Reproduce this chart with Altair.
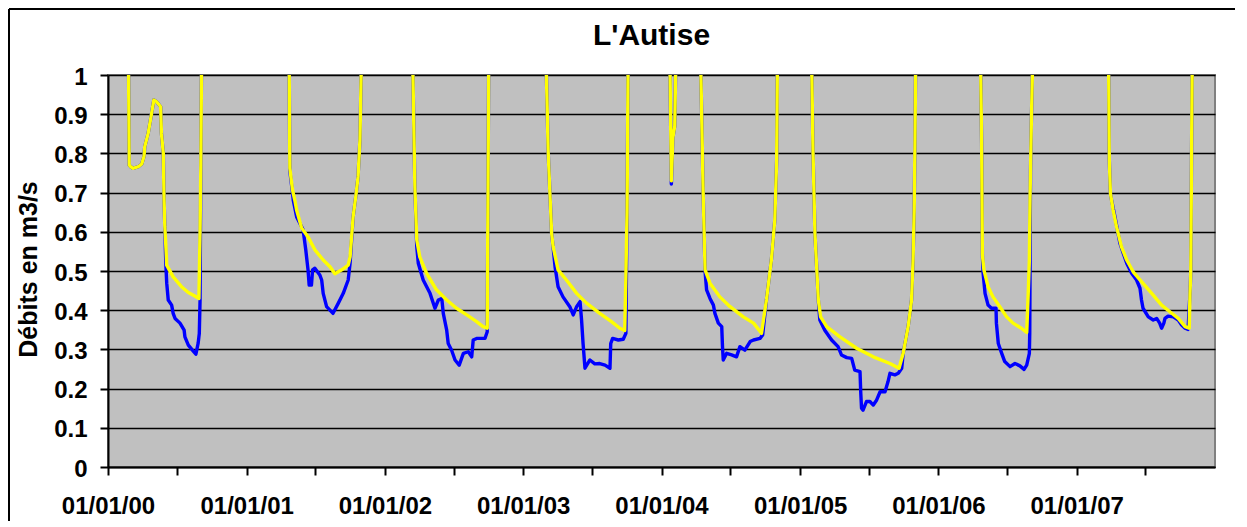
import altair as alt
import pandas as pd

# Débits (m3/s) per low-flow season
# yellow series (drawn on top) and blue series (drawn beneath)
Y00 = [("2000-02-24",1.05),("2000-02-26",0.770),("2000-03-01",0.766),("2000-03-07",0.762),("2000-03-21",0.766),("2000-03-30",0.773),("2000-04-05",0.792),("2000-04-07",0.817),("2000-04-16",0.851),("2000-04-25",0.902),("2000-05-01",0.936),("2000-05-08",0.932),("2000-05-19",0.919),("2000-05-21",0.851),("2000-05-26",0.800),("2000-05-27",0.741),("2000-05-28",0.681),("2000-05-30",0.613),("2000-06-02",0.558),("2000-06-04",0.515),("2000-06-21",0.485),("2000-07-13",0.460),("2000-07-31",0.445),("2000-08-17",0.436),("2000-08-28",0.430),("2000-08-31",0.600),("2000-09-02",0.770),("2000-09-04",1.05)]
B00 = [("2000-02-24",1.05),("2000-02-26",0.770),("2000-03-01",0.766),("2000-03-07",0.762),("2000-03-21",0.766),("2000-03-30",0.773),("2000-04-05",0.792),("2000-04-07",0.817),("2000-04-16",0.851),("2000-04-25",0.902),("2000-05-01",0.936),("2000-05-08",0.932),("2000-05-19",0.919),("2000-05-21",0.851),("2000-05-26",0.800),("2000-05-27",0.741),("2000-05-28",0.681),("2000-05-30",0.613),("2000-06-01",0.540),("2000-06-02",0.511),("2000-06-04",0.469),("2000-06-08",0.426),("2000-06-17",0.413),("2000-06-21",0.392),("2000-06-26",0.379),("2000-07-09",0.367),("2000-07-20",0.349),("2000-07-22",0.332),("2000-07-31",0.311),("2000-08-12",0.297),("2000-08-20",0.288),("2000-08-26",0.316),("2000-08-29",0.341),("2000-08-31",0.426),("2000-09-01",0.600),("2000-09-02",0.770),("2000-09-04",1.05)]

Y01 = [("2001-04-23",1.05),("2001-04-25",0.762),("2001-05-02",0.707),("2001-05-08",0.681),("2001-05-13",0.655),("2001-05-26",0.610),("2001-06-12",0.587),("2001-06-30",0.554),("2001-07-22",0.528),("2001-08-09",0.511),("2001-08-22",0.493),("2001-09-09",0.503),("2001-09-26",0.515),("2001-10-01",0.536),("2001-10-09",0.638),("2001-10-16",0.690),("2001-10-22",0.740),("2001-10-27",0.834),("2001-10-29",0.936),("2001-10-31",1.05)]
B01 = [("2001-04-23",1.05),("2001-04-25",0.755),("2001-05-02",0.700),("2001-05-04",0.681),("2001-05-13",0.638),("2001-05-30",0.605),("2001-06-06",0.554),("2001-06-12",0.503),("2001-06-15",0.464),("2001-06-21",0.464),("2001-06-24",0.503),("2001-06-30",0.507),("2001-07-13",0.490),("2001-07-18",0.477),("2001-07-22",0.443),("2001-07-31",0.409),("2001-08-17",0.392),("2001-08-31",0.418),("2001-09-13",0.443),("2001-09-26",0.477),("2001-10-01",0.520),("2001-10-09",0.638),("2001-10-16",0.690),("2001-10-22",0.740),("2001-10-27",0.834),("2001-10-29",0.936),("2001-10-31",1.05)]

Y02 = [("2002-03-15",1.05),("2002-03-21",0.715),("2002-03-26",0.579),("2002-04-03",0.536),("2002-04-21",0.494),("2002-05-17",0.452),("2002-06-13",0.426),("2002-07-09",0.405),("2002-08-05",0.388),("2002-08-31",0.371),("2002-09-17",0.358),("2002-09-28",0.354),("2002-09-30",0.700),("2002-10-02",1.05)]
B02 = [("2002-03-15",1.05),("2002-03-21",0.715),("2002-03-26",0.562),("2002-03-30",0.520),("2002-04-12",0.477),("2002-04-30",0.443),("2002-05-13",0.405),("2002-05-22",0.426),("2002-05-31",0.430),("2002-06-04",0.392),("2002-06-13",0.349),("2002-06-17",0.315),("2002-06-26",0.298),("2002-07-05",0.273),("2002-07-16",0.260),("2002-07-27",0.290),("2002-08-09",0.294),("2002-08-18",0.281),("2002-08-22",0.324),("2002-08-31",0.328),("2002-09-22",0.328),("2002-09-28",0.345),("2002-09-30",0.700),("2002-10-02",1.05)]

Y03 = [("2003-03-02",1.05),("2003-03-08",0.800),("2003-03-17",0.596),("2003-03-21",0.562),("2003-04-03",0.503),("2003-04-25",0.477),("2003-05-22",0.443),("2003-06-17",0.418),("2003-07-22",0.392),("2003-08-22",0.371),("2003-09-13",0.354),("2003-09-26",0.348),("2003-09-29",0.486),("2003-10-02",0.650),("2003-10-05",1.05)]
B03 = [("2003-03-02",1.05),("2003-03-08",0.800),("2003-03-17",0.596),("2003-03-21",0.560),("2003-03-26",0.511),("2003-04-03",0.460),("2003-04-16",0.434),("2003-05-04",0.409),("2003-05-13",0.388),("2003-05-22",0.409),("2003-05-31",0.422),("2003-06-04",0.375),("2003-06-08",0.315),("2003-06-13",0.252),("2003-06-26",0.273),("2003-07-09",0.263),("2003-07-22",0.264),("2003-08-05",0.260),("2003-08-18",0.252),("2003-08-20",0.315),("2003-08-25",0.328),("2003-09-09",0.324),("2003-09-22",0.326),("2003-09-29",0.341),("2003-10-02",0.650),("2003-10-05",1.05)]

Y04A = [("2004-01-23",1.05),("2004-01-27",0.730),("2004-01-31",0.840),("2004-02-05",0.870),("2004-02-08",1.05)]
B04A = [("2004-01-23",1.05),("2004-01-27",0.722),("2004-01-31",0.840),("2004-02-05",0.870),("2004-02-08",1.05)]

Y04 = [("2004-04-13",1.05),("2004-04-20",0.698),("2004-04-25",0.503),("2004-05-08",0.469),("2004-06-03",0.434),("2004-06-30",0.409),("2004-08-04",0.383),("2004-08-31",0.367),("2004-09-21",0.341),("2004-10-04",0.426),("2004-10-17",0.528),("2004-10-26",0.630),("2004-10-31",0.783),("2004-11-02",1.05)]
B04 = [("2004-04-13",1.05),("2004-04-20",0.698),("2004-04-25",0.500),("2004-04-29",0.452),("2004-05-08",0.430),("2004-05-17",0.413),("2004-05-21",0.392),("2004-05-30",0.367),("2004-06-08",0.358),("2004-06-10",0.307),("2004-06-12",0.273),("2004-06-21",0.290),("2004-07-04",0.286),("2004-07-17",0.281),("2004-07-26",0.307),("2004-08-08",0.298),("2004-08-22",0.320),("2004-08-31",0.324),("2004-09-17",0.328),("2004-09-24",0.337),("2004-10-04",0.426),("2004-10-17",0.528),("2004-10-26",0.630),("2004-10-31",0.783),("2004-11-02",1.05)]

Y05 = [("2005-01-31",1.05),("2005-02-04",0.800),("2005-02-09",0.596),("2005-02-18",0.426),("2005-02-24",0.383),("2005-03-12",0.358),("2005-04-16",0.332),("2005-05-30",0.303),("2005-07-13",0.281),("2005-08-26",0.264),("2005-09-19",0.252),("2005-09-30",0.290),("2005-10-13",0.358),("2005-10-22",0.426),("2005-10-26",0.528),("2005-10-29",0.656),("2005-10-31",0.826),("2005-11-02",1.05)]
B05 = [("2005-01-31",1.05),("2005-02-04",0.800),("2005-02-09",0.596),("2005-02-18",0.426),("2005-02-22",0.375),("2005-03-07",0.349),("2005-03-25",0.324),("2005-04-11",0.307),("2005-04-20",0.286),("2005-05-04",0.279),("2005-05-17",0.277),("2005-05-25",0.247),("2005-06-08",0.243),("2005-06-10",0.188),("2005-06-12",0.150),("2005-06-16",0.145),("2005-06-25",0.167),("2005-07-04",0.167),("2005-07-13",0.158),("2005-07-22",0.171),("2005-07-31",0.192),("2005-08-13",0.192),("2005-08-21",0.218),("2005-08-26",0.239),("2005-09-08",0.235),("2005-09-17",0.239),("2005-09-26",0.252),("2005-09-30",0.290),("2005-10-13",0.358),("2005-10-22",0.426),("2005-10-26",0.528),("2005-10-29",0.656),("2005-10-31",0.826),("2005-11-02",1.05)]

Y06 = [("2006-04-22",1.05),("2006-04-25",0.826),("2006-04-27",0.541),("2006-05-01",0.503),("2006-05-12",0.460),("2006-05-25",0.434),("2006-06-12",0.409),("2006-06-30",0.383),("2006-07-17",0.367),("2006-08-08",0.354),("2006-08-22",0.343),("2006-08-26",0.443),("2006-08-29",0.528),("2006-08-31",0.698),("2006-09-03",0.868),("2006-09-07",1.05)]
B06 = [("2006-04-22",1.05),("2006-04-25",0.826),("2006-04-27",0.541),("2006-04-29",0.494),("2006-05-04",0.443),("2006-05-12",0.413),("2006-05-21",0.405),("2006-06-02",0.405),("2006-06-03",0.367),("2006-06-08",0.315),("2006-06-17",0.290),("2006-06-25",0.269),("2006-07-09",0.256),("2006-07-22",0.264),("2006-08-04",0.258),("2006-08-15",0.249),("2006-08-22",0.260),("2006-08-29",0.290),("2006-08-30",0.341),("2006-09-01",0.750),("2006-09-03",0.868),("2006-09-07",1.05)]

Y07 = [("2007-03-26",1.05),("2007-03-28",0.783),("2007-03-31",0.698),("2007-04-07",0.656),("2007-04-16",0.613),("2007-04-29",0.562),("2007-05-13",0.528),("2007-05-30",0.498),("2007-06-21",0.473),("2007-07-18",0.443),("2007-08-13",0.413),("2007-09-04",0.396),("2007-09-26",0.379),("2007-10-14",0.358),("2007-10-25",0.354),("2007-10-27",0.443),("2007-10-29",0.494),("2007-10-31",0.783),("2007-11-02",1.05)]
B07 = [("2007-03-26",1.05),("2007-03-28",0.783),("2007-03-31",0.698),("2007-04-03",0.681),("2007-04-12",0.638),("2007-04-25",0.571),("2007-05-04",0.545),("2007-05-13",0.520),("2007-05-26",0.494),("2007-06-08",0.477),("2007-06-17",0.456),("2007-06-21",0.426),("2007-06-25",0.405),("2007-07-09",0.383),("2007-07-22",0.375),("2007-07-31",0.379),("2007-08-08",0.367),("2007-08-13",0.354),("2007-08-19",0.367),("2007-08-22",0.379),("2007-08-30",0.385),("2007-09-13",0.383),("2007-09-26",0.375),("2007-10-05",0.362),("2007-10-14",0.354),("2007-10-22",0.351),("2007-10-27",0.443),("2007-10-29",0.494),("2007-10-31",0.783),("2007-11-02",1.05)]

YELLOW_SEASONS = {"2000": Y00, "2001": Y01, "2002": Y02, "2003": Y03, "2004a": Y04A,
                  "2004": Y04, "2005": Y05, "2006": Y06, "2007": Y07}
BLUE_SEASONS = {"2000": B00, "2001": B01, "2002": B02, "2003": B03, "2004a": B04A,
                "2004": B04, "2005": B05, "2006": B06, "2007": B07}

Y_TICKS = [0, 0.1, 0.2, 0.3, 0.4, 0.5, 0.6, 0.7, 0.8, 0.9, 1]
X_TICK_YEARS = list(range(2000, 2008))


def to_frame(seasons, series):
    rows = []
    for name, pts in seasons.items():
        for d, v in pts:
            rows.append({"date": pd.Timestamp(d), "debit": v,
                         "season": name, "series": series})
    return pd.DataFrame(rows)


blue_df = to_frame(BLUE_SEASONS, "blue")
yellow_df = to_frame(YELLOW_SEASONS, "yellow")

x_ticks = []
for yr in X_TICK_YEARS:
    x_ticks.append(alt.DateTime(year=yr, month=1, date=1))
    x_ticks.append(alt.DateTime(year=yr, month=7, date=1))

x_enc = alt.X(
    "date:T",
    scale=alt.Scale(domain=[alt.DateTime(year=2000, month=1, date=1),
                            alt.DateTime(year=2008, month=1, date=1)], nice=False),
    axis=alt.Axis(
        title=None, grid=False, values=x_ticks,
        labelExpr="month(datum.value) == 0 ? timeFormat(datum.value, '%d/%m/%y') : ''",
        labelPadding=19, labelFlush=False, labelOverlap=False,
    ),
)
y_enc = alt.Y(
    "debit:Q",
    scale=alt.Scale(domain=[0, 1], nice=False, zero=True),
    axis=alt.Axis(
        title="Débits en m3/s", values=Y_TICKS, format="~g",
        grid=True, gridColor="black", gridWidth=1.6, gridOpacity=1,
        labelPadding=13, labelOffset=2, labelOverlap=False,
        titleX=-80, titleY=194, titleAngle=270, titleBaseline="middle", titleAlign="center",
    ),
)

blue = alt.Chart(blue_df).mark_line(
    color="#0000FF", strokeWidth=3.4, clip=True, strokeJoin="round", strokeCap="round"
).encode(x=x_enc, y=y_enc, detail="season:N")

yellow = alt.Chart(yellow_df).mark_line(
    color="#FFFF00", strokeWidth=3.4, clip=True, strokeJoin="round", strokeCap="round"
).encode(x=x_enc, y=y_enc, detail="season:N")

border_src = alt.Data(values=[{"k": 0}])
border_left = alt.Chart(border_src).mark_rule(color="black", strokeWidth=2).encode(
    x=alt.value(-99), y=alt.value(-66), y2=alt.value(446)
)
border_top = alt.Chart(border_src).mark_rule(color="black", strokeWidth=2).encode(
    x=alt.value(-99), x2=alt.value(1131), y=alt.value(-66)
)

chart = (
    alt.layer(blue, yellow, border_left, border_top)
    .resolve_scale(x="shared", y="shared")
    .properties(
        width=1107,
        height=392,
        autosize=alt.AutoSizeParams(type="none"),
        padding={"left": 100, "top": 67, "right": 20, "bottom": 54},
        title=alt.TitleParams(
            "L'Autise", font="Liberation Sans", fontSize=30, fontWeight="bold",
            color="black", anchor="middle", frame="group", offset=0,
            baseline="alphabetic", dx=-10, dy=67,
        ),
    )
    .configure_view(fill="#C0C0C0", stroke="#808080", strokeWidth=2)
    .configure_axis(
        labelFont="Liberation Sans", labelFontWeight="bold", labelFontSize=24,
        labelColor="black", titleFont="Liberation Sans", titleFontWeight="bold",
        titleFontSize=25, titleColor="black", domainColor="black", domainWidth=2,
        tickColor="black", tickWidth=2, tickSize=8,
    )
)

chart.save("out.html", embed_options={"renderer": "svg", "actions": False})
